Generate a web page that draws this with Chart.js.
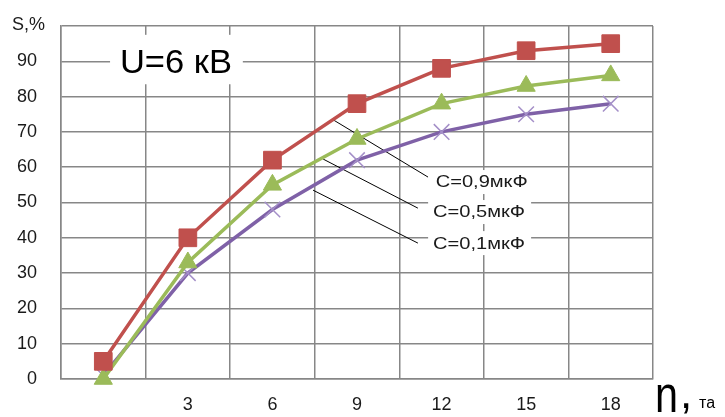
<!DOCTYPE html>
<html>
<head>
<meta charset="utf-8">
<script src="https://cdn.jsdelivr.net/npm/chart.js@4.4.1/dist/chart.umd.min.js"></script>
<style>
  html, body { margin: 0; padding: 0; background: #fff; }
  canvas { display: block; }
</style>
</head>
<body>
<canvas id="chart" width="725" height="417"></canvas>
<script>
// n values (first one has no label on the axis)
const categories = ['', '3', '6', '9', '12', '15', '18'];
// S, % for each capacitance
const sC09 = [5, 40, 62, 78, 88, 93, 95];
const sC05 = [0, 33, 55, 68, 78, 83, 86];
const sC01 = [1, 30, 48, 62, 70, 75, 78];
const seriesNames = ['C=0,9мкФ', 'C=0,5мкФ', 'C=0,1мкФ'];
const yMax = 100;
const yStep = 10;

// annotation anchors in data units: [category index, value]
const leaderFrom = [[2.72, 73.4], [2.60, 62.3], [2.48, 53.5]];
const leaderTo = [[3.84, 57.2], [3.72, 48.4], [3.72, 38.5]];
const labelAt = [[3.93, 55.8], [3.90, 47.3], [3.90, 38.5]];

const FONT = '"Liberation Sans", Arial, sans-serif';
const GRID = '#878787';

function stretchText(ctx, text, x, y, font, width) {
    ctx.font = font;
    const w = ctx.measureText(text).width;
    ctx.save();
    ctx.translate(x, y);
    ctx.scale(width / w, 1);
    ctx.fillText(text, 0, 0);
    ctx.restore();
}

const notes = {
    id: 'notes',
    beforeDatasetsDraw(chart) {
        const { ctx, scales: { x, y } } = chart;
        const px = i => x.getPixelForValue(i);
        const py = v => y.getPixelForValue(v);
        ctx.save();

        // title box
        ctx.fillStyle = '#fff';
        ctx.fillRect(px(0.08), py(97.5), px(1.65) - px(0.08), py(83.5) - py(97.5));
        ctx.fillStyle = '#000';
        ctx.textBaseline = 'alphabetic';
        ctx.textAlign = 'left';
        stretchText(ctx, 'U=6 кВ', px(0.197), py(86.8), '34px ' + FONT, 112);

        // series labels with leader lines
        ctx.strokeStyle = '#000';
        ctx.lineWidth = 1;
        seriesNames.forEach((name, k) => {
            const lx = px(labelAt[k][0]);
            const ly = py(labelAt[k][1]);
            ctx.fillStyle = '#fff';
            ctx.fillRect(lx - 5, ly - 12, 103, 24);
            ctx.beginPath();
            ctx.moveTo(px(leaderFrom[k][0]), py(leaderFrom[k][1]));
            ctx.lineTo(px(leaderTo[k][0]), py(leaderTo[k][1]));
            ctx.stroke();
            ctx.fillStyle = '#1a1a1a';
            ctx.textBaseline = 'middle';
            stretchText(ctx, name, lx, ly + 1, '16px ' + FONT, 92);
        });
        ctx.restore();
    },
    afterDraw(chart) {
        const { ctx } = chart;
        ctx.save();
        ctx.fillStyle = '#1a1a1a';
        ctx.textAlign = 'left';
        ctx.textBaseline = 'alphabetic';
        ctx.font = '18px ' + FONT;
        ctx.fillText('S,%', 12, 30);
        ctx.fillStyle = '#000';
        stretchText(ctx, 'n', 655, 412, '52px ' + FONT, 23);
        ctx.font = '44px ' + FONT;
        ctx.fillText(',', 680, 408);
        ctx.font = '16px ' + FONT;
        ctx.fillText('та', 699, 408);
        ctx.restore();
    }
};

const ctx = document.getElementById('chart').getContext('2d');
new Chart(ctx, {
    type: 'line',
    data: {
        labels: categories,
        datasets: [{
            label: seriesNames[0],
            data: sC09,
            borderColor: '#c0504d',
            backgroundColor: '#c0504d',
            borderWidth: 3.5,
            pointStyle: 'rect',
            pointRadius: 12.5,
            pointBorderWidth: 1,
            pointBorderColor: '#c0504d',
            pointBackgroundColor: '#c0504d',
            tension: 0,
            fill: false,
            clip: false
        }, {
            label: seriesNames[1],
            data: sC05,
            borderColor: '#9bbb59',
            backgroundColor: '#9bbb59',
            borderWidth: 3.5,
            pointStyle: 'triangle',
            pointRadius: 10.5,
            pointBorderWidth: 1,
            pointBorderColor: '#9bbb59',
            pointBackgroundColor: '#9bbb59',
            tension: 0,
            fill: false,
            clip: false
        }, {
            label: seriesNames[2],
            data: sC01,
            borderColor: '#7f61a7',
            backgroundColor: '#7f61a7',
            borderWidth: 3.5,
            pointStyle: 'crossRot',
            pointRadius: 11,
            pointBorderWidth: 1.5,
            pointBorderColor: '#a48fc8',
            tension: 0,
            fill: false,
            clip: false
        }]
    },
    options: {
        responsive: false,
        animation: false,
        layout: { padding: { left: 0, top: 26, right: 72, bottom: 0 } },
        plugins: {
            legend: { display: false },
            tooltip: { enabled: false },
            title: { display: false }
        },
        scales: {
            x: {
                type: 'category',
                offset: true,
                grid: { offset: true, color: GRID, lineWidth: 1.5, drawTicks: false },
                border: { color: GRID, width: 1.5 },
                ticks: {
                    color: '#1a1a1a',
                    font: { family: FONT, size: 18 },
                    padding: 15,
                    maxRotation: 0,
                    autoSkip: false
                },
                afterFit: scale => { scale.height = 38; }
            },
            y: {
                min: 0,
                max: yMax,
                grid: {
                    color: GRID,
                    lineWidth: 1.5,
                    drawTicks: true,
                    tickLength: 24,
                    tickColor: 'rgba(0,0,0,0)'
                },
                border: { color: GRID, width: 1.5 },
                ticks: {
                    stepSize: yStep,
                    color: '#1a1a1a',
                    font: { family: FONT, size: 18 },
                    padding: 0,
                    callback: v => (v === yMax ? '' : v)
                },
                afterFit: scale => { scale.width = 61; }
            }
        }
    },
    plugins: [notes]
});
</script>
</body>
</html>
